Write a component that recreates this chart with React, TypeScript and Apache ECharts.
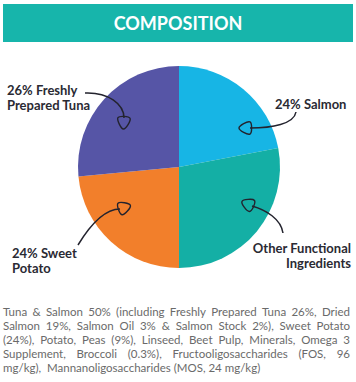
import React, { useEffect, useRef } from "react";
import * as echarts from "echarts";

const title = "COMPOSITION";
const categories = ["Salmon", "Other Functional Ingredients", "Sweet Potato", "Freshly Prepared Tuna"];
const values = [22, 28, 23.5, 26.5];
const sliceColors = ["#17b5e5", "#14afa5", "#f27f2b", "#5655a6"];
const sliceLabels = ["24% Salmon", "Other Functional\nIngredients", "24% Sweet\nPotato", "26% Freshly\nPrepared Tuna"];
const paragraphLines = [
  "Tuna & Salmon 50% (including Freshly Prepared Tuna 26%, Dried",
  "Salmon 19%, Salmon Oil 3% & Salmon Stock 2%), Sweet Potato",
  "(24%), Potato, Peas (9%), Linseed, Beet Pulp, Minerals, Omega 3",
  "Supplement, Broccoli (0.3%), Fructooligosaccharides (FOS, 96",
  "mg/kg),  Mannanoligosaccharides (MOS, 24 mg/kg)",
];

const LABEL_FONT = "Lato";
const INK = "#23232e";

function arrowHead(ex: number, ey: number, dx: number, dy: number, size = 11) {
  const len = Math.hypot(dx, dy);
  const ux = dx / len, uy = dy / len;
  const px = -uy, py = ux;
  return {
    type: "polygon",
    z: 100,
    shape: {
      points: [
        [ex + px * size * 0.55, ey + py * size * 0.55],
        [ex + ux * size, ey + uy * size],
        [ex - px * size * 0.55, ey - py * size * 0.55],
      ],
      smooth: 0.4,
    },
    style: { fill: "none", stroke: INK, lineWidth: 1.4 },
  };
}

function curve(x1: number, y1: number, c1x: number, c1y: number, c2x: number, c2y: number, x2: number, y2: number) {
  return {
    type: "bezierCurve",
    z: 100,
    shape: { x1, y1, cpx1: c1x, cpy1: c1y, cpx2: c2x, cpy2: c2y, x2, y2 },
    style: { stroke: INK, lineWidth: 1.5, fill: "none" },
  };
}

export default function App() {
  const ref = useRef<HTMLDivElement>(null);
  useEffect(() => {
    document.body.style.margin = "0";
    const chart = echarts.init(ref.current!, null, { renderer: "svg" });

    // justified paragraph
    const fontSize = 11.5;
    const pFont = `400 ${fontSize}px Lato`;
    const canvas = document.createElement("canvas");
    const ctx = canvas.getContext("2d")!;
    ctx.font = pFont;
    const left = 3, right = 350;
    const lineY0 = 311, lineStep = 14.2;
    const paraEls: any[] = [];
    paragraphLines.forEach((line, i) => {
      const y = lineY0 + i * lineStep;
      const isLast = i === paragraphLines.length - 1;
      if (isLast) {
        paraEls.push({
          type: "text",
          x: left,
          y,
          style: { text: line, font: pFont, fill: "#6a6a6a", align: "left", verticalAlign: "middle" },
        });
        return;
      }
      const words = line.split(" ");
      const widths = words.map((w) => ctx.measureText(w).width);
      const total = widths.reduce((a, b) => a + b, 0);
      const gap = Math.max(2, (right - left - total) / (words.length - 1));
      let x = left;
      words.forEach((w, k) => {
        paraEls.push({
          type: "text",
          x,
          y,
          style: { text: w, font: pFont, fill: "#6a6a6a", align: "left", verticalAlign: "middle" },
        });
        x += widths[k] + gap;
      });
    });

    const labelStyle = (text: string, align: string) => ({
      text,
      fontFamily: LABEL_FONT,
      fontSize: 13,
      fontWeight: "bold",
      fill: "#2a2a33",
      align,
      verticalAlign: "top",
      lineHeight: 15,
    });

    chart.setOption({
      animation: false,
      series: [
        {
          type: "pie",
          center: [179, 167],
          radius: 101,
          startAngle: 90,
          clockwise: true,
          label: { show: false },
          labelLine: { show: false },
          itemStyle: { borderWidth: 0 },
          emphasis: { disabled: true },
          data: categories.map((name, i) => ({
            name,
            value: values[i],
            itemStyle: { color: sliceColors[i] },
          })),
        },
      ],
      graphic: [
        { type: "rect", shape: { x: 3, y: 4, width: 350, height: 38 }, style: { fill: "#17b5ab" } },
        {
          type: "text",
          x: 178,
          y: 23,
          style: {
            text: title,
            fontFamily: LABEL_FONT,
            fontSize: 18,
            fontWeight: "bold",
            fill: "#ffffff",
            align: "center",
            verticalAlign: "middle",
          },
        },
        // labels
        { type: "text", x: 275, y: 96, style: labelStyle(sliceLabels[0], "left") },
        { type: "text", x: 351, y: 240, style: labelStyle(sliceLabels[1], "right") },
        { type: "text", x: 12, y: 245, style: labelStyle(sliceLabels[2], "left") },
        { type: "text", x: 7, y: 82, style: labelStyle(sliceLabels[3], "left") },
        // arrows
        curve(296, 112, 294, 124, 272, 128, 250, 128),
        arrowHead(250, 128, -1, 0),
        curve(283, 233, 281, 219, 266, 210, 252, 206),
        arrowHead(252, 206, -1, -0.45),
        curve(78, 245, 92, 222, 106, 209, 120, 209),
        arrowHead(120, 209, 1, -0.35),
        curve(85, 93, 108, 92, 124, 104, 124, 118),
        arrowHead(124, 118, -0.05, 1),
        ...paraEls,
      ],
    });
    return () => chart.dispose();
  }, []);
  return <div ref={ref} style={{ width: 356, height: 382 }} />;
}
